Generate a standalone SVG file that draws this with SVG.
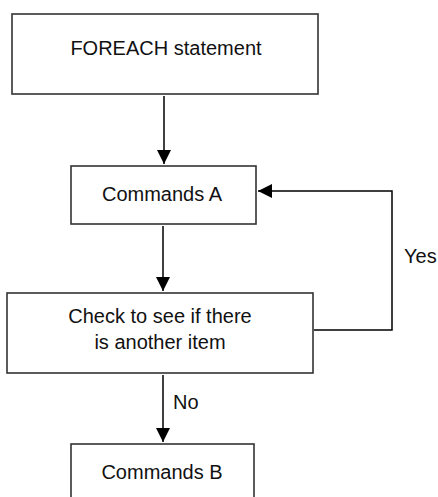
<svg xmlns="http://www.w3.org/2000/svg" width="438" height="497" viewBox="0 0 438 497">
<style>
.box{fill:#fff;stroke:#333;stroke-width:1.6}
.t{font-family:"Liberation Sans",Arial,sans-serif;font-size:20px;fill:#111;text-anchor:middle}
.l{font-family:"Liberation Sans",Arial,sans-serif;font-size:20px;fill:#111}
.c{fill:none;stroke:#000;stroke-width:1.5}
</style>
<defs>
<marker id="ah" markerUnits="userSpaceOnUse" markerWidth="16" markerHeight="16" viewBox="0 0 16 16" refX="15" refY="8" orient="auto">
<path d="M1,1 L15,8 L1,15 Z" fill="#000"/>
</marker>
</defs>
<rect width="438" height="497" fill="#fff"/>
<g id="connectors">
<line class="c" x1="164" y1="96" x2="164" y2="164" marker-end="url(#ah)"/>
<line class="c" x1="163" y1="226" x2="163" y2="291" marker-end="url(#ah)"/>
<line class="c" x1="163" y1="375" x2="163" y2="442" marker-end="url(#ah)"/>
<polyline class="c" points="314,330 392,330 392,191 258,191" marker-end="url(#ah)"/>
<text class="l" x="404" y="263">Yes</text>
<text class="l" x="173" y="409">No</text>
</g>
<g id="foreach">
<rect class="box" x="12" y="14" width="306" height="80"/>
<text class="t" x="166" y="55">FOREACH statement</text>
</g>
<g id="commandsA">
<rect class="box" x="71" y="166" width="185" height="58"/>
<text class="t" x="162" y="201">Commands A</text>
</g>
<g id="check">
<rect class="box" x="7" y="293" width="306" height="80"/>
<text class="t" x="160" y="323">Check to see if there</text>
<text class="t" x="160" y="349">is another item</text>
</g>
<g id="commandsB">
<rect class="box" x="71" y="444" width="183" height="60"/>
<text class="t" x="162" y="479">Commands B</text>
</g>
</svg>
